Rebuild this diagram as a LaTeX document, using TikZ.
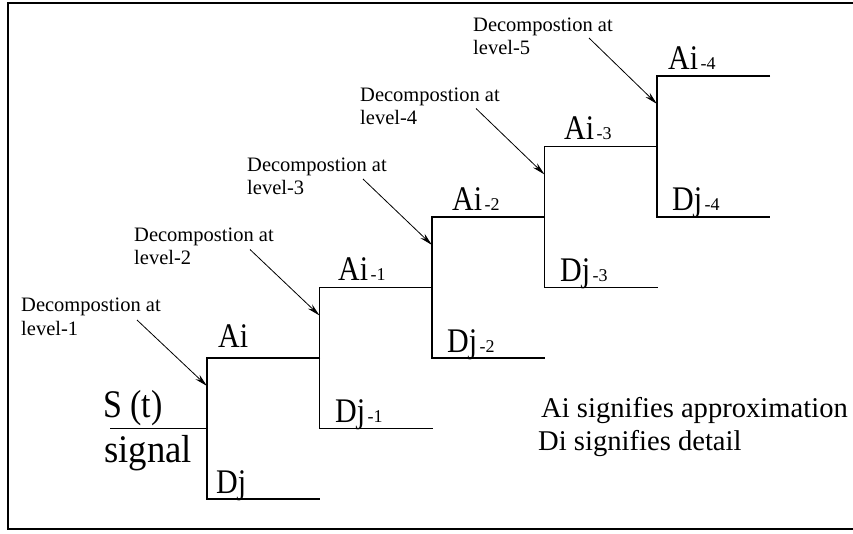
\documentclass[tikz,border=0pt]{standalone}
\usepackage{fontspec}
\setmainfont{Liberation Serif}
\usetikzlibrary{arrows.meta}
\newcommand{\subidx}[1]{\hspace{2.5pt}{\fontsize{18}{20}\selectfont #1}}
\newcommand{\tallbox}[1]{\scalebox{1}[1.15]{#1}}
\begin{document}
\begin{tikzpicture}[x=1pt,y=-1pt,
  stair/.style={line width=1.5pt},
  frameline/.style={line width=2pt},
  pointer/.style={line width=0.8pt,-{Stealth[length=13pt,width=6pt]}},
  bigtxt/.style={font=\fontsize{30}{36}\selectfont, inner sep=0pt, anchor=base west},
  sigtxt/.style={font=\fontsize{34}{40}\selectfont, inner sep=0pt, anchor=base west},
  legtxt/.style={font=\fontsize{28.6}{33}\selectfont, inner sep=0pt, anchor=base west},
  dectxt/.style={font=\fontsize{20.5}{23}\selectfont, inner sep=0pt, anchor=base west}
]
\useasboundingbox (0,0) rectangle (853,534);
\clip (0,0) rectangle (853,534);
\draw[frameline] (870,3) -- (8,3) -- (8,529) -- (870,529);

% staircase
\coordinate (s) at (110,428.5);
\coordinate (m0) at (207,428.5);
\draw[stair] (s) -- (m0);
\foreach \k in {0,...,4}{
  \pgfmathsetmacro\X{207+112.5*\k}
  \pgfmathsetmacro\XE{207+112.5*(\k+1)+0.5}
  \pgfmathsetmacro\T{358-70.5*\k}
  \pgfmathsetmacro\B{499-70.5*\k}
  \coordinate (t\k) at (\X,\T);
  \coordinate (b\k) at (\X,\B);
  \coordinate (te\k) at (\XE,\T);
  \coordinate (be\k) at (\XE,\B);
  \draw[stair] (te\k) -- (t\k) -- (b\k) -- (be\k);
  % decomposition labels and arrows
  \pgfmathsetmacro\LX{21+113*\k}
  \pgfmathsetmacro\LYa{312-70*\k}
  \pgfmathsetmacro\LYb{335-70*\k}
  \pgfmathtruncatemacro\lev{\k+1}
  \node[dectxt] (dec\k) at (\LX,\LYa) {Decompostion at};
  \node[dectxt] (lev\k) at (\LX,\LYb) {level-\lev};
  \pgfmathsetmacro\AX{137+113*\k}
  \pgfmathsetmacro\AY{320-70.5*\k}
  \coordinate (as\k) at (\AX,\AY);
  \coordinate (ah\k) at (\X,\T+28);
  \draw[pointer] (as\k) -- (ah\k);
}

% signal
\node[sigtxt] (st) at (103,417) {\tallbox{S (t)}};
\node[sigtxt] (sig) at (104,462) {\scalebox{1.08}[1.15]{signal}};

% approximation labels
\node[bigtxt] (A0) at (218,347) {\tallbox{Ai}};
\node[bigtxt] (A1) at (338,281) {\tallbox{Ai}\subidx{-1}};
\node[bigtxt] (A2) at (452,211) {\tallbox{Ai}\subidx{-2}};
\node[bigtxt] (A3) at (564,140) {\tallbox{Ai}\subidx{-3}};
\node[bigtxt] (A4) at (668,70) {\tallbox{Ai}\subidx{-4}};

% detail labels
\node[bigtxt] (D0) at (216,493) {\tallbox{Dj}};
\node[bigtxt] (D1) at (335,422.5) {\tallbox{Dj}\subidx{-1}};
\node[bigtxt] (D2) at (447,352) {\tallbox{Dj}\subidx{-2}};
\node[bigtxt] (D3) at (560,281.5) {\tallbox{Dj}\subidx{-3}};
\node[bigtxt] (D4) at (672,211) {\tallbox{Dj}\subidx{-4}};

% legend
\node[legtxt] (leg1) at (541,417) {Ai signifies approximation};
\node[legtxt] (leg2) at (538,450) {Di signifies detail};
\end{tikzpicture}
\end{document}
